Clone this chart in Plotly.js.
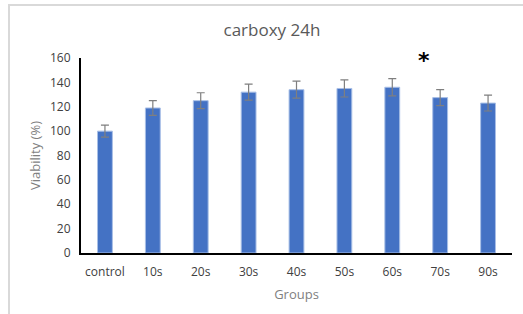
<!DOCTYPE html>
<html>
<head>
<meta charset="utf-8">
<script src="https://cdn.plot.ly/plotly-3.0.1.min.js"></script>
<style>
  html, body { margin: 0; padding: 0; background: #fff; }
  #wrap { position: relative; width: 523px; height: 314px; overflow: hidden; }
  #frame { position: absolute; left: 8px; top: 4px; right: -4px; bottom: -4px; border-top: 2px solid #d9d9d9; border-left: 2px solid #d9d9d9; pointer-events: none; z-index: 5; }
  #chart { position: absolute; left: 0; top: 0; width: 523px; height: 314px; }
</style>
</head>
<body>
<div id="wrap">
  <div id="chart"></div>
  <div id="frame"></div>
</div>
<script>
const groups = ["control", "10s", "20s", "30s", "40s", "50s", "60s", "70s", "90s"];
const viability = [100, 119, 125, 132, 134, 135, 136, 127.5, 123];
const errors = [5, 6, 6.5, 6.5, 7, 7, 7, 6.5, 6.5];
const significant = ["70s"];
const yTicks = [0, 20, 40, 60, 80, 100, 120, 140, 160];

const trace = {
  type: "bar",
  x: groups,
  y: viability,
  marker: { color: "#4472C4", line: { color: "#a8bfe6", width: 1 } },
  error_y: { type: "data", array: errors, visible: true, color: "#7f7f7f", thickness: 1.2, width: 4 },
  hoverinfo: "none"
};

const annotations = significant.map(g => ({
  x: g, y: 1.005, xref: "x", yref: "paper", yanchor: "middle", xshift: -16, yshift: -3,
  text: "<b>*</b>", showarrow: false,
  font: { family: "DejaVu Sans", size: 22, color: "#000" }
}));

const layout = {
  width: 523, height: 314,
  margin: { l: 81, r: 11, t: 58, b: 61 },
  paper_bgcolor: "#fff", plot_bgcolor: "#fff",
  bargap: 0.69,
  showlegend: false,
  font: { family: "Open Sans, Noto Sans, sans-serif", color: "#404040", size: 12 },
  title: { text: "carboxy 24h", x: 0.52, xanchor: "center", y: 0.905, yanchor: "middle",
           font: { family: "Open Sans, Noto Sans, sans-serif", size: 17, color: "#595959" } },
  xaxis: {
    type: "category",
    showline: true, linecolor: "#000", linewidth: 2,
    ticks: "", showgrid: false, zeroline: false,
    tickfont: { size: 12, color: "#404040" },
    ticklabelstandoff: 7,
    title: { text: "Groups", font: { size: 13, color: "#7f7f7f" }, standoff: 10 }
  },
  yaxis: {
    range: [0, 160], tickvals: yTicks,
    showline: true, linecolor: "#000", linewidth: 2,
    ticks: "", showgrid: false, zeroline: false,
    tickfont: { size: 12, color: "#404040" },
    ticklabelstandoff: 6,
    title: { text: "Viability (%)", font: { size: 13, color: "#7f7f7f" }, standoff: 6 }
  },
  annotations: annotations
};

Plotly.newPlot("chart", [trace], layout, { staticPlot: true, displayModeBar: false });
</script>
</body>
</html>
